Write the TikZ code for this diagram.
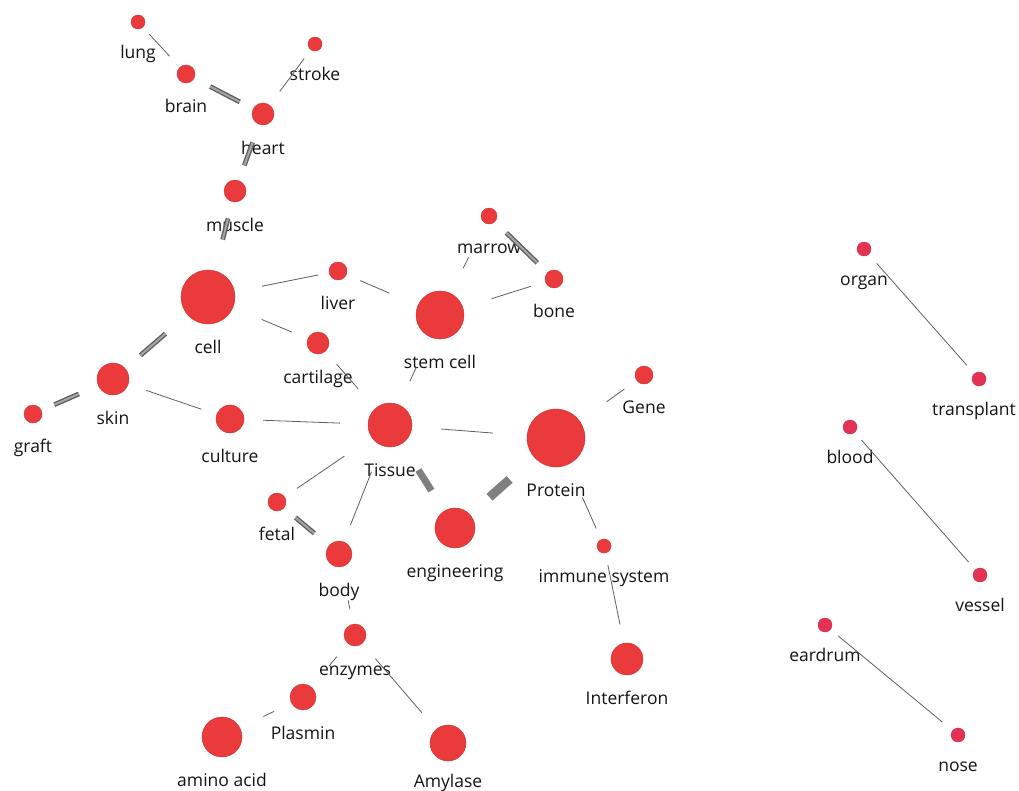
\documentclass[tikz,border=0pt]{standalone}
\usepackage{fontspec}
\setmainfont{Open Sans}
\usetikzlibrary{positioning}

\definecolor{nodered}{RGB}{234,58,60}
\definecolor{nodepink}{RGB}{228,50,84}
\definecolor{linkgray}{RGB}{95,95,95}
\definecolor{bargray}{RGB}{128,128,128}
\definecolor{txtgray}{RGB}{20,20,20}

\tikzset{
    term/.style={circle, inner sep=0pt, minimum size=#1, fill=nodered, draw=nodered!85!black, line width=0.4pt},
    pterm/.style={term=#1, fill=nodepink, draw=nodepink!85!black},
    lbl/.style={anchor=center, inner sep=0pt, text height=12.5pt, text depth=4pt,
        text=txtgray, font=\fontsize{17.5}{20}\selectfont},
    link/.style={draw=linkgray, line width=0.8pt},
    duallink/.style={draw=linkgray, line width=1.4pt, double=bargray!70, double distance=2pt},
    barlink/.style={draw=bargray, line width=#1},
    cut/.style 2 args={shorten <=#1pt, shorten >=#2pt}
}

\begin{document}
\begin{tikzpicture}[x=1pt, y=-1pt, label distance=25pt]

    \useasboundingbox (0,0) rectangle (1019,790);

    % upper branch
    \node[term=14pt]  (lung)    at (138,22)  [label={[lbl]below:lung}] {};
    \node[term=14pt]  (stroke)  at (315,44)  [label={[lbl]below:stroke}] {};
    \node[term=18pt]  (brain)   at (186,74)  [label={[lbl]below:brain}] {};
    \node[term=22pt]  (heart)   at (263,114) [label={[lbl]below:heart}] {};
    \node[term=22pt]  (muscle)  at (235,191) [label={[lbl]below:muscle}] {};

    \node[term=16pt]  (marrow)  at (489,216) [label={[lbl]below:marrow}] {};
    \node[term=18pt]  (bone)    at (554,279) [label={[lbl]below:bone}] {};
    \node[term=18pt]  (liver)   at (338,271) [label={[lbl]below:liver}] {};
    \node[term=54pt]  (cell)    at (208,297) [label={[lbl]below:cell}] {};
    \node[term=48pt]  (stemcell) at (440,315) [label={[lbl]below:stem cell}] {};
    \node[term=22pt]  (cartilage) at (318,343) [label={[lbl]below:cartilage}] {};

    % middle
    \node[term=32pt]  (skin)    at (113,379) [label={[lbl]below:skin}] {};
    \node[term=18pt]  (graft)   at (33,414)  [label={[lbl]below:graft}] {};
    \node[term=28pt]  (culture) at (230,419) [label={[lbl]below:culture}] {};
    \node[term=44pt]  (tissue)  at (390,425) [label={[lbl]below:Tissue}] {};
    \node[term=58pt]  (protein) at (556,438) [label={[lbl]below:Protein}] {};
    \node[term=18pt]  (gene)    at (644,375) [label={[lbl]below:Gene}] {};

    % lower branch
    \node[term=18pt]  (fetal)   at (277,502) [label={[lbl]below:fetal}] {};
    \node[term=40pt]  (engin)   at (455,528) [label={[lbl]below:engineering}] {};
    \node[term=14pt]  (immune)  at (604,546) [label={[lbl]below:immune system}] {};
    \node[term=26pt]  (body)    at (339,554) [label={[lbl]below:body}] {};
    \node[term=22pt]  (enzymes) at (355,635) [label={[lbl]below:enzymes}] {};
    \node[term=32pt]  (interferon) at (627,659) [label={[lbl]below:Interferon}] {};
    \node[term=26pt]  (plasmin) at (303,697) [label={[lbl]below:Plasmin}] {};
    \node[term=40pt]  (amino)   at (222,737) [label={[lbl]below:amino acid}] {};
    \node[term=36pt]  (amylase) at (448,743) [label={[lbl, yshift=3pt]below:Amylase}] {};

    % separate pairs on the right
    \node[pterm=14pt] (organ)      at (864,249) [label={[lbl]below:organ}] {};
    \node[pterm=14pt] (transplant) at (979,379) [label={[lbl, xshift=-5pt]below:transplant}] {};
    \node[pterm=14pt] (blood)      at (850,427) [label={[lbl]below:blood}] {};
    \node[pterm=14pt] (vessel)     at (980,575) [label={[lbl]below:vessel}] {};
    \node[pterm=14pt] (eardrum)    at (825,625) [label={[lbl]below:eardrum}] {};
    \node[pterm=14pt] (nose)       at (958,735) [label={[lbl]below:nose}] {};

    \path (lung)    edge [link, cut={9}{15}]      (brain)
          (brain)   edge [duallink, cut={18}{15}] (heart)
          (stroke)  edge [link, cut={11}{17}]     (heart)
          (heart)   edge [duallink, cut={19}{16}] (muscle)
          (muscle)  edge [duallink, cut={17}{32}] (cell)

          (cell)    edge [link, cut={28}{11}]     (liver)
                    edge [link, cut={31}{17}]     (cartilage)
                    edge [duallink, cut={29}{20}] (skin)
          (liver)   edge [link, cut={15}{31}]     (stemcell)
          (marrow)  edge [link, cut={38}{28}]     (stemcell)
                    edge [duallink, cut={16}{14}] (bone)
          (stemcell) edge [link, cut={30}{15}]    (bone)
                    edge [link, cut={33}{26}]     (tissue)
          (cartilage) edge [link, cut={17}{26}]   (tissue)

          (skin)    edge [duallink, cut={21}{14}] (graft)
                    edge [link, cut={19}{16}]     (culture)
          (culture) edge [link, cut={19}{28}]     (tissue)
          (tissue)  edge [link, cut={29}{34}]     (protein)
                    edge [link, cut={33}{15}]     (fetal)
                    edge [link, cut={28}{18}]     (body)
                    edge [barlink=7pt, cut={31}{24}] (engin)
          (engin)   edge [barlink=9pt, cut={26}{33}] (protein)
          (protein) edge [link, cut={33}{15}]     (gene)
                    edge [link, cut={36}{12}]     (immune)
          (immune)  edge [link, cut={12}{19}]     (interferon)

          (fetal)   edge [duallink, cut={15}{19}] (body)
          (body)    edge [link, cut={34}{15}]     (enzymes)
          (enzymes) edge [link, cut={17}{27}]     (plasmin)
                    edge [link, cut={20}{22}]     (amylase)
          (plasmin) edge [link, cut={19}{26}]     (amino)

          (organ)   edge [link, cut={12}{11}]     (transplant)
          (blood)   edge [link, cut={10}{10}]     (vessel)
          (eardrum) edge [link, cut={10}{13}]     (nose);

\end{tikzpicture}
\end{document}
